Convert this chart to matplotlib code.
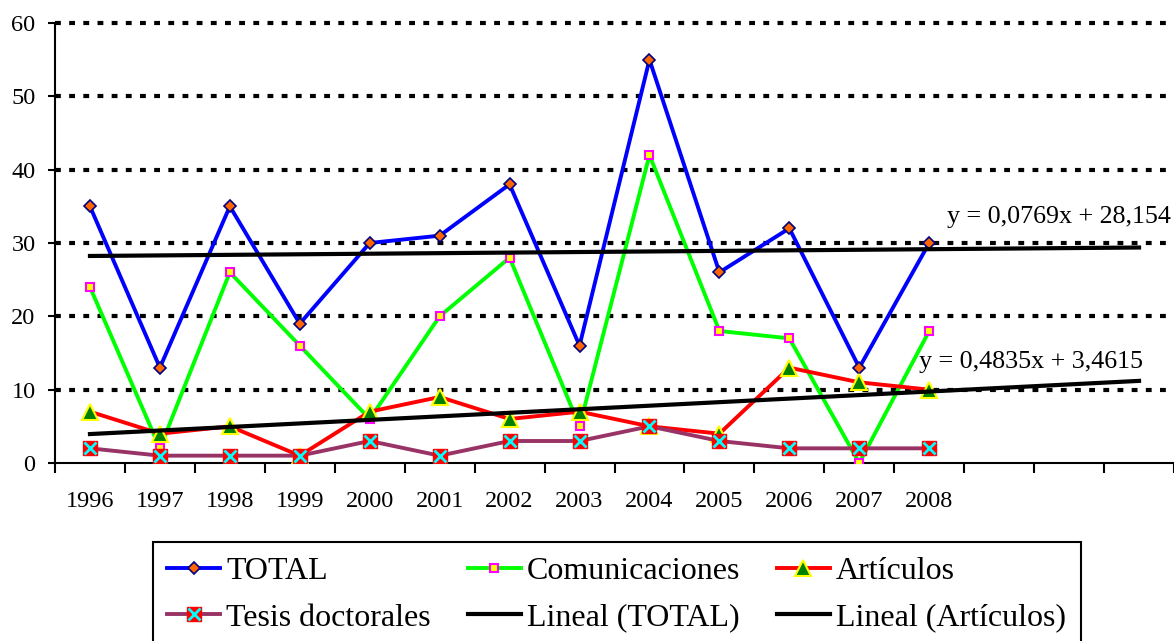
import numpy as np
import matplotlib.pyplot as plt
from matplotlib.legend_handler import HandlerTuple

plt.rcParams['font.family'] = ['Liberation Serif', 'DejaVu Serif']

# data
years = ['1996', '1997', '1998', '1999', '2000', '2001', '2002',
         '2003', '2004', '2005', '2006', '2007', '2008']
n_categories = 16  # 3 empty slots where the trend lines run on
total = [35, 13, 35, 19, 30, 31, 38, 16, 55, 26, 32, 13, 30]
comunicaciones = [24, 2, 26, 16, 6, 20, 28, 5, 42, 18, 17, 0, 18]
articulos = [7, 4, 5, 1, 7, 9, 6, 7, 5, 4, 13, 11, 10]
tesis = [2, 1, 1, 1, 3, 1, 3, 3, 5, 3, 2, 2, 2]
eq_total = 'y = 0,0769x + 28,154'
eq_articulos = 'y = 0,4835x + 3,4615'

fig = plt.figure(figsize=(11.74, 6.41), dpi=100)
ax = fig.add_axes([55 / 1174, 1 - 463 / 641, 1 - 55 / 1174, (463 - 23) / 641])

x = np.arange(len(years))
x_all = np.arange(n_categories)

# dotted horizontal gridlines
for v in range(10, 70, 10):
    ax.axhline(v, color='black', lw=3.0, ls=(0, (1.4, 2.0)), clip_on=False, zorder=1)

l_total, = ax.plot(x, total, color='#0000FF', lw=2.8, marker='D', ms=6.5,
                   mfc='#FF6600', mec='#000080', mew=1.2, zorder=3)
l_com, = ax.plot(x, comunicaciones, color='#00FF00', lw=2.8, marker='s', ms=6,
                 mfc='#FFFF00', mec='#FF00FF', mew=1.5, zorder=4)
l_art, = ax.plot(x, articulos, color='#FF0000', lw=2.8, marker='^', ms=11,
                 mfc='#008000', mec='#FFFF00', mew=1.5, zorder=5)
l_tes, = ax.plot(x, tesis, color='#993366', lw=2.8, marker='s', ms=10,
                 mfc='#FF0000', mec='#FF0000', zorder=6)
l_tes_x, = ax.plot(x, tesis, ls='none', marker='x', ms=9, mec='#00FFFF',
                   mew=2, zorder=6)

# linear trends (Excel counts x from 1)
p_total = np.polyfit(x + 1, total, 1)
p_art = np.polyfit(x + 1, articulos, 1)
t_total, = ax.plot(x_all, np.polyval(p_total, x_all + 1), color='black', lw=3, zorder=7)
t_art, = ax.plot(x_all, np.polyval(p_art, x_all + 1), color='black', lw=3, zorder=7)

ax.text(12.26, 32.7, eq_total, fontsize=18.7, va='baseline', ha='left')
ax.text(11.86, 12.95, eq_articulos, fontsize=18.7, va='baseline', ha='left')

ax.set_xlim(-0.5, n_categories - 0.5)
ax.set_ylim(0, 60)
ax.set_yticks(range(0, 70, 10))
ax.set_xticks(x)
ax.set_xticklabels(years)
ax.set_xticks(np.arange(n_categories + 1) - 0.5, minor=True)
ax.tick_params(axis='x', which='major', length=0, pad=20, labelsize=17.5)
ax.tick_params(axis='x', which='minor', length=7, width=1.5, direction='out')
ax.tick_params(axis='y', length=5, width=1.5, pad=9, labelsize=17.5)
for side in ['top', 'right']:
    ax.spines[side].set_visible(False)
for side in ['left', 'bottom']:
    ax.spines[side].set_linewidth(1.5)

handles = [l_total, (l_tes, l_tes_x), l_com, t_total, l_art, t_art]
labels = ['TOTAL', 'Tesis doctorales', 'Comunicaciones', 'Lineal (TOTAL)',
          'Artículos', 'Lineal (Artículos)']
leg = fig.legend(handles, labels, ncol=3, loc='upper left',
                 bbox_to_anchor=(153 / 1174, 1 - 542 / 641), borderaxespad=0,
                 fontsize=23, handlelength=1.65, handletextpad=0.2,
                 columnspacing=1.15, labelspacing=0.55, borderpad=0.45,
                 fancybox=False, framealpha=1, edgecolor='black',
                 handler_map={tuple: HandlerTuple(ndivide=1)})
leg.get_frame().set_linewidth(1.5)

fig.savefig('out.png', dpi=100)
